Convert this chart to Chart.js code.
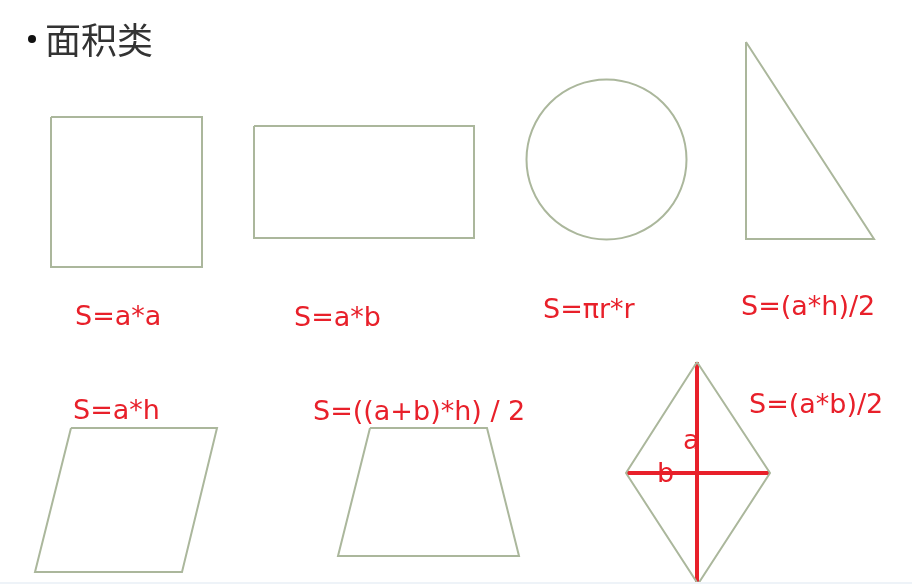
<!DOCTYPE html>
<html>
<head>
<meta charset="utf-8">
<title>面积类</title>
<script src="https://cdn.jsdelivr.net/npm/chart.js@4"></script>
<style>
  html, body { margin: 0; padding: 0; background: #fff; }
  #wrap { width: 912px; height: 584px; position: relative; }
  #bottomBand { position: absolute; left: 0; right: 0; bottom: 0; height: 2px; background: #eef3f8; }
</style>
</head>
<body>
<div id="wrap">
  <canvas id="shapes"></canvas>
  <div id="bottomBand"></div>
</div>
<script>
// shape outlines (vertices on a 912 x 584 grid, y down)
const square = [[51, 117], [202, 117], [202, 267], [51, 267], [51, 117]];
const rectangle = [[254, 126], [474, 126], [474, 238], [254, 238], [254, 126]];
const circleCenter = [[606.5, 159.5]];
const triangle = [[746, 42], [746, 239], [874, 239], [746, 42]];
const parallelogram = [[71, 428], [217, 428], [182, 572], [35, 572], [71, 428]];
const trapezoid = [[370, 428], [487, 428], [519, 556], [338, 556], [370, 428]];
const rhombus = [[697, 362], [770, 473], [698, 584], [626, 473], [697, 362]];
const diagonalA = [[697, 362], [697, 584]];
const diagonalB = [[626, 473], [770, 473]];

// texts
const titleText = '面积类';
const formulas = ['S=a*a', 'S=a*b', 'S=πr*r', 'S=(a*h)/2', 'S=a*h', 'S=((a+b)*h) / 2', 'S=(a*b)/2'];
const formulaAnchors = [[75, 325], [294, 326], [543, 318], [741, 315], [73, 419], [313, 420], [749, 413]];
const diagLabels = ['a', 'b'];
const diagLabelAnchors = [[683, 449], [657, 482]];

const outlineColor = '#abb79c';
const red = '#e8202a';

const toPoints = arr => arr.map(p => ({ x: p[0], y: p[1] }));

const outline = (label, pts) => ({
    label: label,
    data: toPoints(pts),
    showLine: true,
    borderColor: outlineColor,
    borderWidth: 2,
    pointRadius: 0,
    fill: false,
    tension: 0
});

const redLine = (label, pts) => ({
    label: label,
    data: toPoints(pts),
    showLine: true,
    borderColor: red,
    borderWidth: 4,
    pointRadius: 0,
    fill: false,
    tension: 0
});

// text drawn through the chart scales
const textPlugin = {
    id: 'textPlugin',
    afterDatasetsDraw(chart) {
        const ctx = chart.ctx;
        const xs = chart.scales.x;
        const ys = chart.scales.y;
        ctx.save();

        // title with bullet
        ctx.fillStyle = '#111';
        ctx.beginPath();
        ctx.arc(xs.getPixelForValue(32), ys.getPixelForValue(39), 4, 0, Math.PI * 2);
        ctx.fill();
        ctx.fillStyle = '#333';
        ctx.font = '36px "Noto Sans CJK SC"';
        ctx.textBaseline = 'middle';
        ctx.textAlign = 'left';
        ctx.fillText(titleText, xs.getPixelForValue(45), ys.getPixelForValue(40));

        ctx.fillStyle = red;
        ctx.textBaseline = 'alphabetic';
        ctx.font = '27px "DejaVu Sans"';
        formulas.forEach((t, i) => {
            const a = formulaAnchors[i];
            ctx.fillText(t, xs.getPixelForValue(a[0]), ys.getPixelForValue(a[1]));
        });
        diagLabels.forEach((t, i) => {
            const a = diagLabelAnchors[i];
            ctx.fillText(t, xs.getPixelForValue(a[0]), ys.getPixelForValue(a[1]));
        });
        ctx.restore();
    }
};

new Chart(document.getElementById('shapes'), {
    type: 'scatter',
    data: {
        datasets: [
            outline('square', square),
            outline('rectangle', rectangle),
            {
                label: 'circle',
                data: toPoints(circleCenter),
                pointRadius: 80,
                pointHoverRadius: 80,
                pointStyle: 'circle',
                borderColor: outlineColor,
                borderWidth: 2,
                backgroundColor: 'rgba(0,0,0,0)'
            },
            outline('triangle', triangle),
            outline('parallelogram', parallelogram),
            outline('trapezoid', trapezoid),
            outline('rhombus', rhombus),
            redLine('a', diagonalA),
            redLine('b', diagonalB)
        ]
    },
    options: {
        responsive: true,
        maintainAspectRatio: false,
        animation: false,
        events: [],
        layout: { padding: 0, autoPadding: false },
        plugins: {
            legend: { display: false },
            tooltip: { enabled: false },
            title: { display: false }
        },
        scales: {
            x: { type: 'linear', min: 0, max: 912, display: false },
            y: { type: 'linear', min: 0, max: 584, reverse: true, display: false }
        }
    },
    plugins: [textPlugin]
});
</script>
</body>
</html>
